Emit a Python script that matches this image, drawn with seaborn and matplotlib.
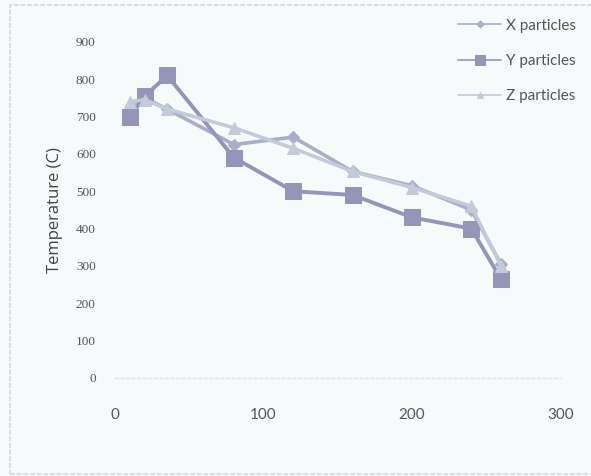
import matplotlib
matplotlib.use("Agg")
import matplotlib.pyplot as plt
import seaborn as sns
import pandas as pd
from matplotlib.patches import Rectangle

# Data
distance = [10, 20, 35, 80, 120, 160, 200, 240, 260]
x_particles = [720, 750, 720, 625, 645, 553, 515, 450, 305]
y_particles = [700, 755, 810, 590, 500, 490, 430, 400, 265]
z_particles = [740, 745, 720, 670, 615, 553, 510, 460, 300]
series_names = ["X particles", "Y particles", "Z particles"]
x_ticks = [0, 100, 200, 300]
y_ticks = [0, 100, 200, 300, 400, 500, 600, 700, 800, 900]

sns.set_style("white")
bg = "#f6fafa"
fig = plt.figure(figsize=(5.91, 4.76), dpi=100, facecolor=bg)
ax = fig.add_axes([0.195, 0.206, 0.753, 0.706])
ax.set_facecolor(bg)

styles = {
    "X particles": dict(color="#a9afc6", marker="D", ms=6, lw=2.6),
    "Y particles": dict(color="#9496b8", marker="s", ms=11, lw=2.8),
    "Z particles": dict(color="#c3cad8", marker="^", ms=8, lw=2.6),
}
values = {"X particles": x_particles, "Y particles": y_particles, "Z particles": z_particles}

for name in series_names:
    st = styles[name]
    df = pd.DataFrame({"d": distance, "t": values[name]})
    sns.lineplot(data=df, x="d", y="t", ax=ax, color=st["color"], marker=st["marker"],
                 markersize=st["ms"], linewidth=st["lw"], markeredgecolor=st["color"],
                 label=name, legend=False)

ax.set_xlim(0, 300)
ax.set_ylim(0, 900)
ax.set_xticks(x_ticks)
ax.set_yticks(y_ticks)
ax.set_xticklabels([str(v) for v in x_ticks], fontsize=11, color="#555555", family="Lato")
ax.set_yticklabels([str(v) for v in y_ticks], fontsize=9.5, color="#555555", family="Liberation Serif")
ax.tick_params(axis="x", length=0, pad=22)
ax.tick_params(axis="y", length=0, pad=14)
ax.set_xlabel("")
ax.set_ylabel("Temperature (C)", fontsize=12, color="#444444", family="Open Sans", labelpad=9)
for s in ["top", "right", "left"]:
    ax.spines[s].set_visible(False)
ax.spines["bottom"].set_color("#dde3e6")
ax.spines["bottom"].set_linestyle((0, (2, 2)))
ax.spines["bottom"].set_linewidth(1.0)

# legend
lines = ax.get_lines()
leg = fig.legend(lines, series_names, loc="upper left", bbox_to_anchor=(0.752, 0.99),
                 frameon=False, labelspacing=1.4, handlelength=2.8, markerscale=0.6,
                 handletextpad=0.3, labelcolor="#555555", prop={"family": "Lato", "size": 11})
for h in leg.legend_handles:
    h.set_linewidth(1.2)

# figure border
fig.patches.append(Rectangle((0.017, 0.005), 1.0, 0.985, transform=fig.transFigure,
                             fill=False, edgecolor="#d4d8da", linewidth=1.2, linestyle=(0, (3, 1))))

fig.savefig("out.png", dpi=100, facecolor=bg)
